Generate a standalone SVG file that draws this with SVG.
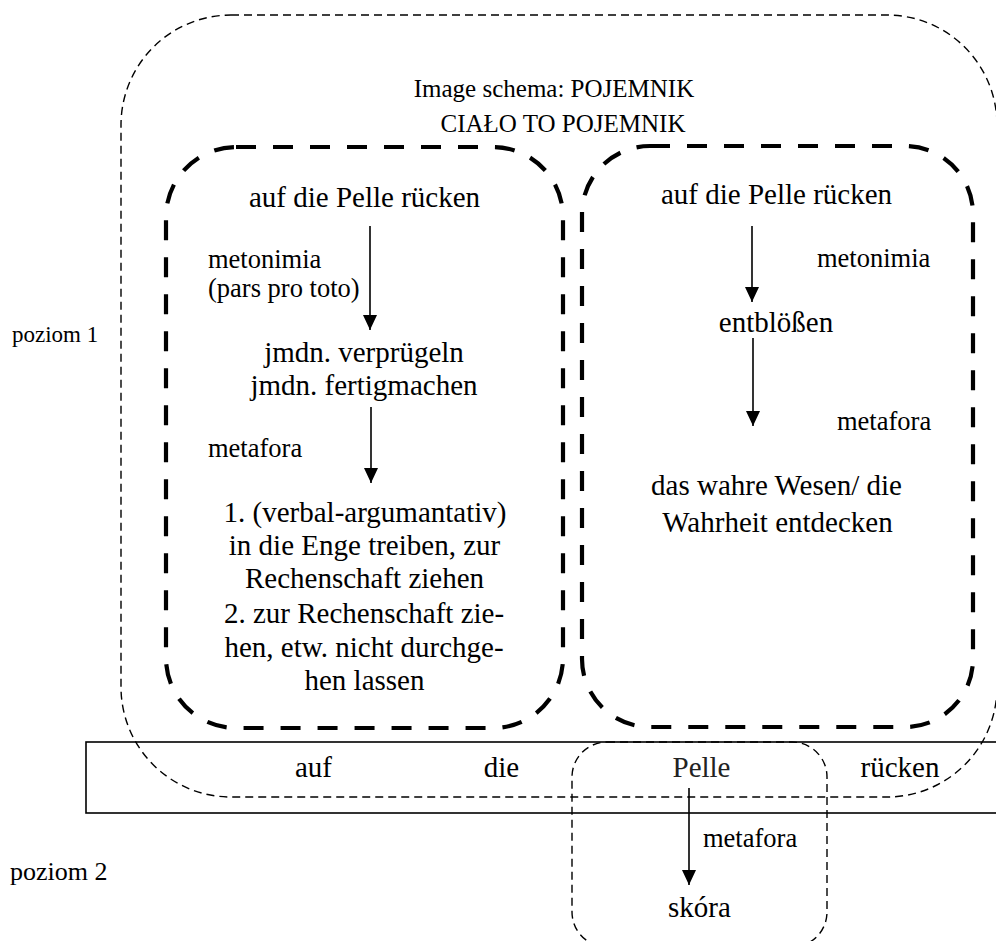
<svg xmlns="http://www.w3.org/2000/svg" width="996" height="941" viewBox="0 0 996 941">
  <style>
    text { font-family: "Liberation Serif", "Times New Roman", serif; fill: #000; }
    .big { font-size: 29px; }
    .lbl { font-size: 26.5px; }
    .hdr { font-size: 25px; }
    .mid { text-anchor: middle; }
    .thin { fill: none; stroke: #000; stroke-width: 1.4; stroke-dasharray: 8 5; }
    .thick { fill: none; stroke: #000; stroke-width: 4.2; stroke-dasharray: 20 17; }
    .solid { fill: none; stroke: #000; stroke-width: 1.6; }
    .arrow { stroke: #000; stroke-width: 1.6; fill: none; marker-end: url(#head); }
  </style>
  <defs>
    <marker id="head" viewBox="0 0 15 14" refX="15" refY="7" markerWidth="15" markerHeight="14" markerUnits="userSpaceOnUse" orient="auto">
      <path d="M0,0 L15,7 L0,14 z" fill="#000"/>
    </marker>
  </defs>
  <rect width="996" height="941" fill="#fff"/>

  <!-- image schema container -->
  <g id="schema">
    <rect class="thin" x="121" y="15" width="876" height="782" rx="110" ry="110"/>
    <text class="hdr mid" x="554" y="97">Image schema: POJEMNIK</text>
    <text class="hdr mid" x="563" y="132">CIAŁO TO POJEMNIK</text>
  </g>

  <!-- level labels -->
  <g id="levels">
    <text x="12" y="342" style="font-size:23px">poziom 1</text>
    <text x="10" y="880" style="font-size:26px">poziom 2</text>
  </g>

  <!-- left chain -->
  <g id="chain-left">
    <rect class="thick" x="166" y="147" width="397" height="581" rx="70" ry="70"/>
    <text class="big mid" x="364.5" y="207">auf die Pelle rücken</text>
    <text class="lbl" x="208" y="268">metonimia</text>
    <text class="lbl" x="208" y="297">(pars pro toto)</text>
    <text class="big mid" x="364" y="362">jmdn. verprügeln</text>
    <text class="big mid" x="364" y="395">jmdn. fertigmachen</text>
    <text class="lbl" x="208" y="457">metafora</text>
    <text class="big mid" x="365" y="522">1. (verbal-argumantativ)</text>
    <text class="big mid" x="364.5" y="555">in die Enge treiben, zur</text>
    <text class="big mid" x="364.5" y="588">Rechenschaft ziehen</text>
    <text class="big mid" x="364" y="623">2. zur Rechenschaft zie-</text>
    <text class="big mid" x="364" y="657">hen, etw. nicht durchge-</text>
    <text class="big mid" x="364.5" y="690">hen lassen</text>
  </g>

  <!-- right chain -->
  <g id="chain-right">
    <rect class="thick" x="582" y="146" width="391" height="581" rx="68" ry="68"/>
    <text class="big mid" x="776.5" y="204">auf die Pelle rücken</text>
    <text class="lbl" x="817" y="267">metonimia</text>
    <text class="big mid" x="776" y="332">entblößen</text>
    <text class="lbl" x="837" y="430">metafora</text>
    <text class="big mid" x="776.5" y="495">das wahre Wesen/ die</text>
    <text class="big mid" x="777.5" y="532">Wahrheit entdecken</text>
  </g>

  <!-- phrase strip -->
  <g id="phrase">
    <rect class="solid" x="86" y="742" width="920" height="71"/>
    <text class="big mid" x="313.5" y="777">auf</text>
    <text class="big mid" x="501.5" y="777">die</text>
    <text class="big mid" x="701.5" y="777" style="fill:#222">Pelle</text>
    <text class="big mid" x="900" y="777">rücken</text>
  </g>

  <!-- word level -->
  <g id="word">
    <rect class="thin" x="572" y="742" width="255" height="205" rx="35" ry="35"/>
    <text class="lbl" x="703" y="847">metafora</text>
    <text class="big mid" x="699.5" y="917">skóra</text>
  </g>

  <!-- connectors -->
  <g id="connectors">
    <line class="arrow" x1="370" y1="226" x2="370" y2="330"/>
    <line class="arrow" x1="371" y1="407" x2="371" y2="483"/>
    <line class="arrow" x1="752" y1="226" x2="752" y2="302"/>
    <line class="arrow" x1="753" y1="338" x2="753" y2="426"/>
    <line class="arrow" x1="689" y1="788" x2="689" y2="885"/>
  </g>
</svg>
